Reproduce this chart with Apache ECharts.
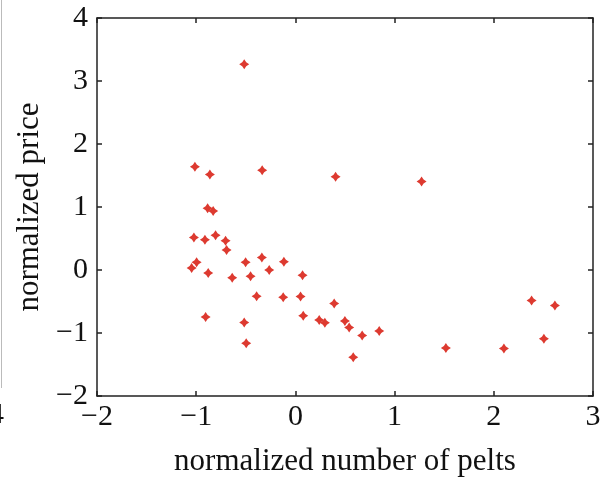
<!DOCTYPE html>
<html>
<head>
<meta charset="utf-8">
<script src="https://cdn.jsdelivr.net/npm/echarts@6/dist/echarts.min.js"></script>
<style>html,body{margin:0;padding:0;background:#fff}#c{width:614px;height:482px}</style>
</head>
<body>
<div id="c"></div>
<script>
var pelts = [-0.516,-1.013,-0.862,-0.335,0.405,-0.885,-0.829,-1.023,-0.912,-0.805,-0.704,-0.694,-0.996,-1.046,-0.879,-0.637,-0.502,-0.338,-0.452,-0.264,-0.116,0.072,-0.391,-0.123,0.052,0.391,-0.905,-0.516,0.079,0.24,0.297,0.499,0.542,0.673,0.845,-0.496,0.583,1.272,1.517,2.102,2.381,2.616,2.505];
var price = [3.265,1.638,1.517,1.585,1.48,0.98,0.937,0.516,0.479,0.553,0.463,0.316,0.122,0.032,-0.047,-0.122,0.122,0.2,-0.1,0.0,0.131,-0.084,-0.416,-0.432,-0.42,-0.532,-0.747,-0.832,-0.727,-0.795,-0.837,-0.81,-0.911,-1.038,-0.968,-1.164,-1.385,1.406,-1.237,-1.248,-0.485,-0.564,-1.09];
var xTicks = [-2,-1,0,1,2,3];
var yTicks = [-2,-1,0,1,2,3,4];
var xName = 'normalized number of pelts';
var yName = 'normalized price';

var pts = pelts.map(function(v,i){return [v, price[i]];});
var FONT = '"Liberation Serif", serif';
var lineStyle = {color:'#222', width:1.5};
function fmt(v){ return v < 0 ? '\u2212' + Math.abs(v) : String(v); }

var chart = echarts.init(document.getElementById('c'), null, {renderer:'canvas'});
chart.setOption({
  animation:false,
  backgroundColor:'#fff',
  grid:{left:97, right:21, top:18, height:380},
  xAxis:[{
    type:'value', min:-2, max:3, interval:1, position:'bottom',
    axisLine:{show:true, onZero:false, lineStyle:lineStyle},
    axisTick:{show:true, inside:true, length:5, lineStyle:lineStyle},
    splitLine:{show:false},
    axisLabel:{fontFamily:FONT, fontSize:30, color:'#111', margin:6, formatter:fmt},
    name:xName, nameLocation:'middle', nameGap:50,
    nameTextStyle:{fontFamily:FONT, fontSize:31, color:'#111'}
  },{
    type:'value', min:-2, max:3, interval:1, position:'top',
    axisLine:{show:true, onZero:false, lineStyle:lineStyle},
    axisTick:{show:true, inside:true, length:5, lineStyle:lineStyle},
    splitLine:{show:false}, axisLabel:{show:false}
  }],
  yAxis:[{
    type:'value', min:-2, max:4, interval:1, position:'left',
    axisLine:{show:true, onZero:false, lineStyle:lineStyle},
    axisTick:{show:true, inside:true, length:5, lineStyle:lineStyle},
    splitLine:{show:false},
    axisLabel:{fontFamily:FONT, fontSize:30, color:'#111', margin:9, formatter:fmt},
    name:yName, nameLocation:'middle', nameGap:52, nameRotate:90,
    nameTextStyle:{fontFamily:FONT, fontSize:31, color:'#111'}
  },{
    type:'value', min:-2, max:4, interval:1, position:'right',
    axisLine:{show:true, onZero:false, lineStyle:lineStyle},
    axisTick:{show:true, inside:true, length:5, lineStyle:lineStyle},
    splitLine:{show:false}, axisLabel:{show:false}
  }],
  graphic:[
    {type:'line', shape:{x1:1.5,y1:0,x2:1.5,y2:388}, style:{stroke:'#bbb', lineWidth:1}},
    {type:'text', left:-11, top:400, style:{text:'4', font:'30px "Liberation Serif"', fill:'#111'}}
  ],
  series:[{
    type:'scatter', xAxisIndex:0, yAxisIndex:0,
    data:pts,
    symbol:'path://M0,-5 L2,-2 L5,0 L2,2 L0,5 L-2,2 L-5,0 L-2,-2 Z',
    symbolSize:10,
    itemStyle:{color:'#dd3a30', opacity:1}
  }]
});
</script>
</body>
</html>
